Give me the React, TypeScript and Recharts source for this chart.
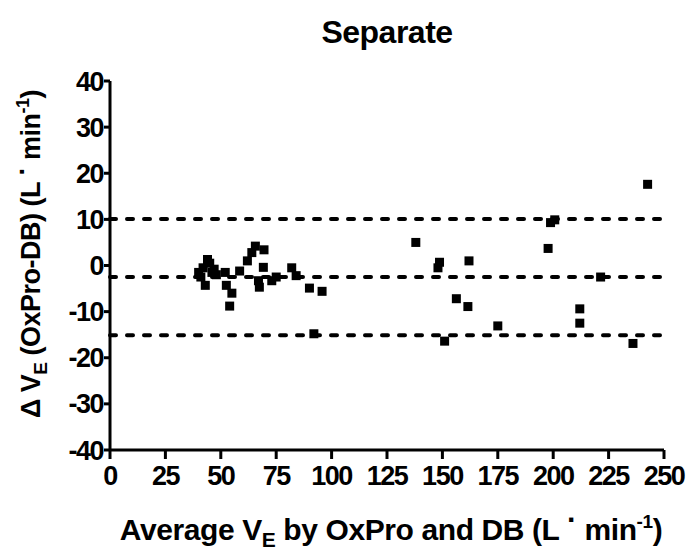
import React from 'react'
import { ScatterChart, Scatter, XAxis, YAxis, ReferenceLine } from 'recharts'

// average VE (L/min) for each subject
const avgVe = [
  40, 41, 42, 43, 44, 45, 46, 47, 48, 52, 52.5, 54, 55, 58.5, 62, 64, 65.6, 67, 67.4, 69.5,
  69.2, 73, 75, 82, 84, 90, 92, 95.7,
  138, 148, 148.7, 151, 156.3, 161.5, 162, 175, 197.7, 198.8, 200.7, 212, 212, 221.4, 236, 242.6,
]
// difference OxPro - DB (L/min)
const diffVe = [
  -1.5, -2.5, -0.5, -4.3, 1.3, 0.5, -1.5, -0.8, -2, -1.5, -4.3, -8.8, -6, -1.2, 1, 2.8, 4.2, -3.3, -4.7, 3.4,
  -0.4, -3.3, -2.5, -0.5, -2.2, -4.9, -14.8, -5.6,
  5, -0.5, 0.7, -16.4, -7.2, -8.9, 1, -13.1, 3.7, 9.3, 9.9, -9.4, -12.5, -2.5, -16.9, 17.6,
]
const xTicks = [0, 25, 50, 75, 100, 125, 150, 175, 200, 225, 250]
const yTicks = [-40, -30, -20, -10, 0, 10, 20, 30, 40]
const bias = -2.5
const upperLoa = 10.1
const lowerLoa = -15.1

const points = avgVe.map((x, i) => ({ x, y: diffVe[i] }))

const font = '"Liberation Sans", Arial, Helvetica, sans-serif'
const tickStyle = { fill: '#000', fontSize: 27, fontWeight: 'bold', fontFamily: font, letterSpacing: -1.5 }

const Square = (props: any) => {
  const { cx, cy } = props
  return <rect x={cx - 4.5} y={cy - 4.5} width={9} height={9} fill="#000" />
}

export default function App() {
  return (
    <div style={{ width: 686, height: 554, position: 'relative', background: '#fff' }}>
      <style>{'body{margin:0}'}</style>
      <ScatterChart width={686} height={554} margin={{ top: 81, right: 22, bottom: 64, left: 0 }}>
        <XAxis
          type="number"
          dataKey="x"
          domain={[0, 250]}
          ticks={xTicks}
          interval={0}
          height={40}
          axisLine={{ stroke: '#000', strokeWidth: 3 }}
          tickLine={{ stroke: '#000', strokeWidth: 3 }}
          tickSize={9}
          tickMargin={7}
          tick={tickStyle}
        />
        <YAxis
          type="number"
          dataKey="y"
          domain={[-40, 40]}
          ticks={yTicks}
          interval={0}
          width={110}
          axisLine={{ stroke: '#000', strokeWidth: 3 }}
          tickLine={{ stroke: '#000', strokeWidth: 3 }}
          tickSize={6}
          tickMargin={1}
          tick={tickStyle}
        />
        <ReferenceLine y={upperLoa} stroke="#000" strokeWidth={4} strokeDasharray="6 11" strokeLinecap="round" />
        <ReferenceLine y={bias} stroke="#000" strokeWidth={4} strokeDasharray="6 11" strokeLinecap="round" />
        <ReferenceLine y={lowerLoa} stroke="#000" strokeWidth={4} strokeDasharray="6 11" strokeLinecap="round" />
        <Scatter data={points} fill="#000" shape={Square} isAnimationActive={false} />
      </ScatterChart>

      <svg width={686} height={554} style={{ position: 'absolute', left: 0, top: 0, pointerEvents: 'none' }}>
        <text x={387} y={43} textAnchor="middle" fontFamily={font} fontWeight="bold" fontSize={32} letterSpacing={-0.5}>
          Separate
        </text>
        <text x={391} y={540} textAnchor="middle" fontFamily={font} fontWeight="bold" fontSize={30} letterSpacing={-0.4}>
          Average V<tspan dy={7} fontSize={21}>E</tspan>
          <tspan dy={-7}> by OxPro and DB (L </tspan>
          <tspan dy={-10}>·</tspan>
          <tspan dy={10}> min</tspan>
          <tspan dy={-12} fontSize={19}>-1</tspan>
          <tspan dy={12}>)</tspan>
        </text>
        <text
          transform="translate(40,254) rotate(-90)"
          textAnchor="middle"
          fontFamily={font}
          fontWeight="bold"
          fontSize={27}
          letterSpacing={-0.5}
        >
          Δ V<tspan dy={7} fontSize={19}>E</tspan>
          <tspan dy={-7}> (OxPro-DB) (L </tspan>
          <tspan dy={-9}>·</tspan>
          <tspan dy={9}> min</tspan>
          <tspan dy={-11} fontSize={18}>-1</tspan>
          <tspan dy={11}>)</tspan>
        </text>
      </svg>
    </div>
  )
}
